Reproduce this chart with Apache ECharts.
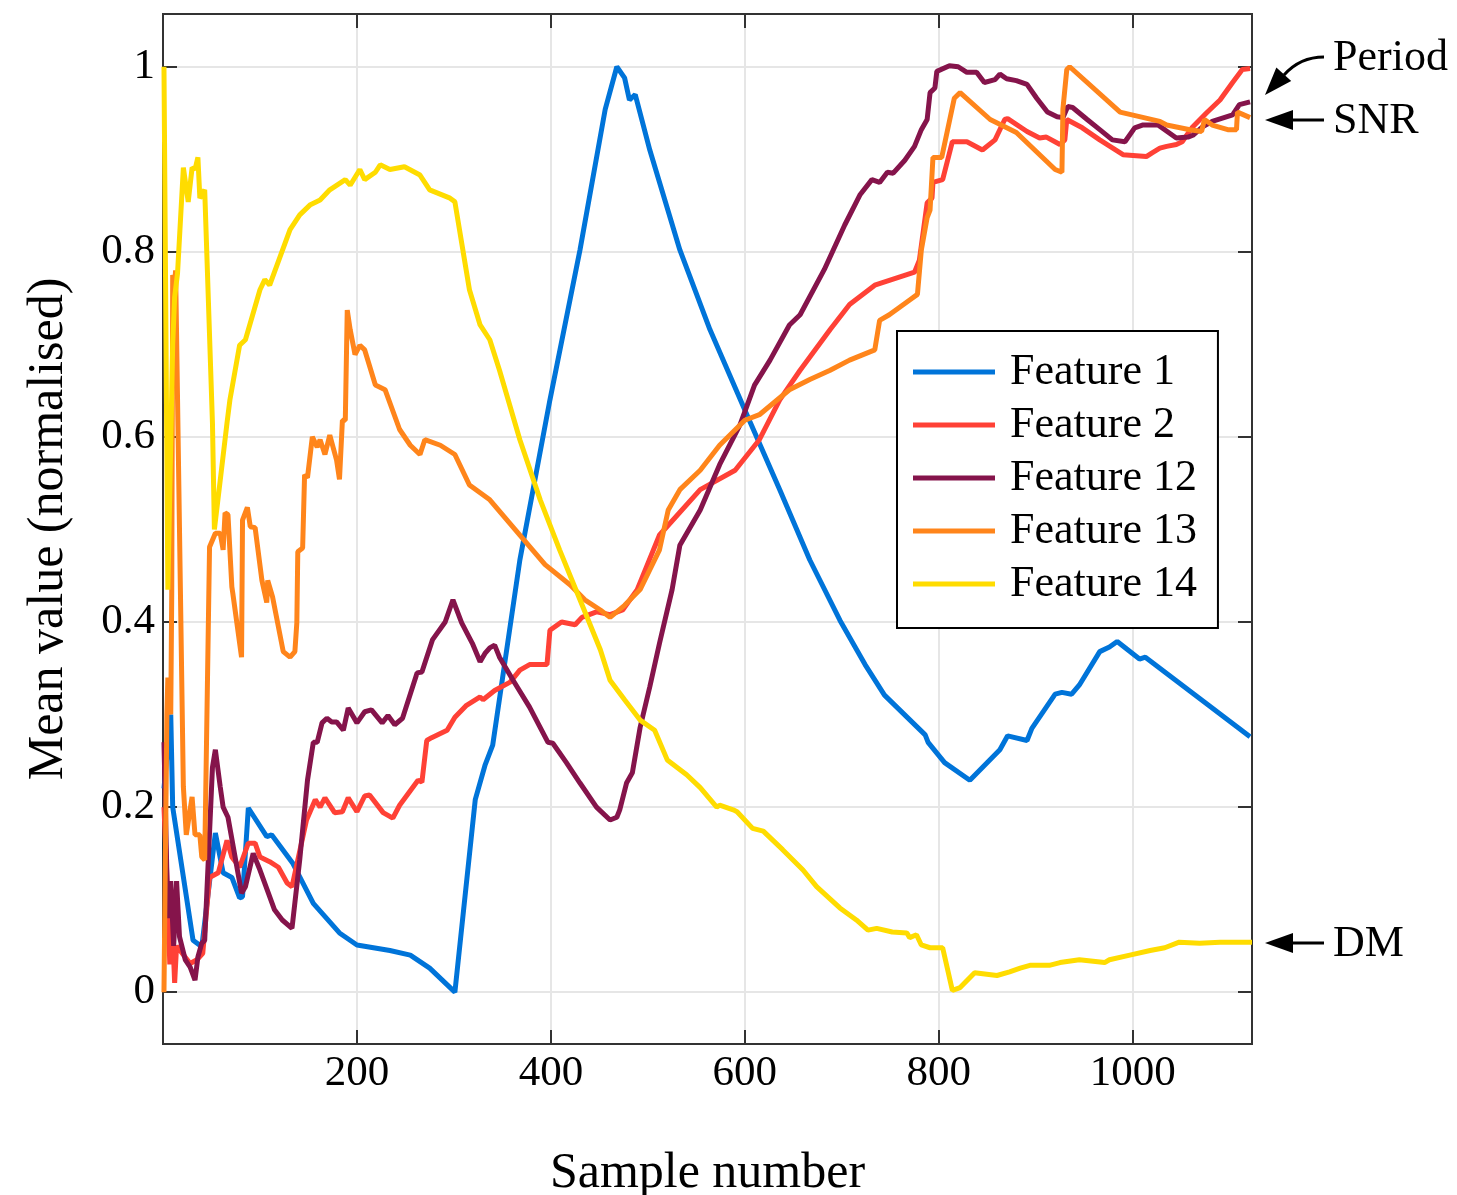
<!DOCTYPE html>
<html>
<head>
<meta charset="utf-8">
<script src="https://cdn.jsdelivr.net/npm/echarts@6/dist/echarts.min.js"></script>
<style>html,body{margin:0;padding:0;background:#fff}#c{width:1457px;height:1195px}</style>
</head>
<body>
<div id="c"></div>
<script>
// Data: [sample number, normalised mean value]
const feature1 = [[1,0.22],[8,0.30],[10,0.20],[31,0.056],[40,0.049],[54,0.172],[62,0.129],[71,0.124],[79,0.102],[82,0.103],[88,0.199],[107,0.168],[112,0.17],[134,0.139],[155,0.096],[182,0.064],[200,0.051],[234,0.045],[255,0.04],[275,0.026],[301,0.0],[322,0.208],[332,0.245],[340,0.267],[368,0.467],[399,0.64],[430,0.802],[456,0.954],[468,1.0],[476,0.988],[481,0.964],[487,0.97],[502,0.91],[533,0.802],[564,0.716],[600,0.629],[636,0.543],[667,0.467],[698,0.402],[724,0.354],[744,0.321],[786,0.278],[789,0.27],[806,0.248],[832,0.229],[847,0.245],[863,0.262],[871,0.277],[891,0.272],[896,0.285],[920,0.322],[927,0.324],[937,0.322],[945,0.332],[966,0.368],[976,0.373],[984,0.379],[1007,0.36],[1013,0.362],[1121,0.276]];
const feature2 = [[1,0.2],[5,0.10],[7,0.03],[9,0.09],[12,0.01],[14,0.05],[28,0.031],[35,0.035],[41,0.042],[48,0.124],[57,0.129],[66,0.164],[71,0.146],[79,0.135],[88,0.161],[95,0.161],[100,0.146],[110,0.141],[119,0.135],[128,0.118],[133,0.114],[148,0.186],[157,0.208],[162,0.2],[167,0.21],[177,0.194],[185,0.195],[191,0.21],[200,0.195],[208,0.212],[213,0.213],[227,0.194],[237,0.188],[244,0.202],[263,0.229],[267,0.227],[272,0.272],[277,0.275],[293,0.283],[301,0.297],[313,0.31],[327,0.319],[330,0.316],[342,0.326],[358,0.335],[368,0.348],[378,0.354],[396,0.354],[399,0.391],[411,0.4],[425,0.397],[432,0.405],[447,0.411],[461,0.408],[474,0.413],[489,0.435],[512,0.494],[554,0.543],[590,0.564],[615,0.597],[636,0.64],[657,0.672],[688,0.716],[708,0.743],[734,0.764],[775,0.778],[780,0.791],[788,0.853],[793,0.858],[794,0.875],[804,0.878],[814,0.919],[829,0.919],[845,0.91],[858,0.921],[868,0.943],[871,0.944],[891,0.93],[904,0.923],[911,0.924],[925,0.916],[930,0.921],[932,0.943],[948,0.934],[966,0.921],[990,0.905],[1014,0.903],[1020,0.907],[1028,0.912],[1035,0.914],[1045,0.916],[1051,0.919],[1061,0.934],[1076,0.95],[1090,0.964],[1103,0.983],[1113,0.997],[1121,0.998]];
const feature12 = [[1,0.27],[5,0.08],[8,0.12],[11,0.05],[14,0.12],[17,0.06],[23,0.035],[28,0.027],[33,0.013],[36,0.038],[40,0.053],[43,0.056],[51,0.243],[54,0.262],[59,0.222],[62,0.2],[67,0.189],[81,0.107],[85,0.114],[93,0.15],[100,0.132],[115,0.089],[123,0.078],[133,0.069],[134,0.078],[141,0.143],[149,0.229],[155,0.27],[159,0.27],[164,0.291],[169,0.296],[174,0.292],[179,0.292],[186,0.283],[191,0.307],[200,0.291],[208,0.303],[215,0.305],[226,0.291],[232,0.299],[239,0.289],[247,0.296],[262,0.345],[267,0.346],[278,0.381],[291,0.4],[299,0.424],[308,0.399],[319,0.377],[327,0.357],[332,0.366],[337,0.372],[342,0.375],[347,0.362],[361,0.337],[378,0.308],[397,0.27],[402,0.269],[416,0.248],[430,0.226],[447,0.2],[461,0.186],[468,0.189],[471,0.197],[478,0.226],[484,0.237],[492,0.286],[502,0.33],[512,0.377],[525,0.435],[533,0.483],[554,0.521],[574,0.57],[595,0.613],[610,0.656],[626,0.683],[646,0.721],[657,0.732],[682,0.781],[703,0.829],[719,0.862],[731,0.878],[739,0.875],[747,0.886],[753,0.885],[765,0.899],[775,0.914],[782,0.932],[788,0.943],[791,0.972],[796,0.977],[798,0.995],[811,1.001],[820,1.0],[829,0.994],[839,0.994],[847,0.983],[858,0.986],[863,0.992],[870,0.987],[880,0.985],[891,0.981],[901,0.966],[912,0.951],[922,0.946],[928,0.945],[933,0.957],[938,0.956],[953,0.943],[966,0.932],[979,0.921],[992,0.919],[1002,0.934],[1010,0.937],[1026,0.937],[1033,0.932],[1045,0.923],[1057,0.924],[1062,0.926],[1072,0.935],[1082,0.941],[1103,0.948],[1110,0.959],[1121,0.962]];
const feature13 = [[1,0.0],[4,0.30],[5,0.34],[8,0.30],[9,0.43],[10,0.775],[12,0.765],[13,0.78],[21,0.222],[24,0.17],[30,0.211],[33,0.17],[38,0.17],[40,0.146],[43,0.143],[48,0.481],[54,0.496],[59,0.496],[62,0.478],[64,0.518],[67,0.516],[71,0.438],[72,0.431],[81,0.362],[82,0.51],[87,0.524],[90,0.503],[95,0.502],[102,0.445],[107,0.421],[108,0.445],[113,0.427],[124,0.368],[131,0.362],[136,0.368],[138,0.399],[139,0.476],[144,0.48],[146,0.559],[149,0.556],[154,0.6],[159,0.589],[162,0.597],[167,0.581],[172,0.602],[179,0.575],[182,0.554],[185,0.618],[188,0.618],[190,0.737],[193,0.716],[198,0.689],[203,0.699],[208,0.694],[219,0.656],[229,0.651],[244,0.608],[255,0.591],[265,0.581],[270,0.597],[286,0.591],[301,0.581],[316,0.548],[337,0.532],[368,0.494],[394,0.462],[420,0.44],[435,0.424],[451,0.413],[461,0.405],[476,0.418],[492,0.435],[512,0.478],[521,0.521],[533,0.543],[554,0.564],[574,0.591],[600,0.618],[615,0.624],[646,0.651],[667,0.662],[688,0.672],[708,0.683],[734,0.694],[739,0.726],[749,0.732],[770,0.748],[778,0.754],[782,0.802],[788,0.837],[791,0.845],[794,0.902],[803,0.902],[816,0.966],[822,0.972],[853,0.943],[880,0.929],[907,0.902],[920,0.889],[927,0.886],[928,0.954],[932,0.997],[935,1.0],[987,0.951],[1028,0.941],[1035,0.937],[1059,0.932],[1071,0.93],[1074,0.943],[1082,0.937],[1098,0.932],[1107,0.932],[1108,0.951],[1121,0.945]];
const feature14 = [[1,1.0],[5,0.435],[10,0.70],[12,0.751],[15,0.777],[21,0.891],[26,0.854],[30,0.891],[33,0.889],[36,0.902],[38,0.858],[43,0.867],[51,0.615],[53,0.5],[66,0.615],[69,0.64],[79,0.699],[85,0.705],[100,0.759],[105,0.77],[110,0.764],[131,0.824],[141,0.84],[152,0.851],[162,0.856],[172,0.867],[188,0.878],[193,0.872],[203,0.889],[208,0.878],[219,0.886],[224,0.894],[234,0.889],[249,0.892],[265,0.883],[275,0.867],[296,0.858],[301,0.854],[316,0.759],[327,0.721],[337,0.705],[347,0.672],[368,0.597],[389,0.532],[409,0.478],[430,0.424],[451,0.37],[461,0.337],[476,0.316],[492,0.294],[507,0.283],[520,0.251],[540,0.235],[554,0.221],[571,0.2],[574,0.202],[588,0.197],[592,0.195],[608,0.177],[619,0.174],[639,0.154],[660,0.132],[674,0.114],[698,0.091],[715,0.078],[727,0.067],[736,0.069],[752,0.065],[767,0.064],[770,0.059],[777,0.062],[782,0.051],[791,0.048],[804,0.048],[814,0.002],[822,0.005],[837,0.021],[860,0.018],[873,0.022],[884,0.026],[894,0.029],[914,0.029],[925,0.032],[945,0.035],[971,0.032],[976,0.035],[997,0.04],[1018,0.045],[1033,0.048],[1048,0.054],[1069,0.053],[1090,0.054],[1123,0.054]];

const seriesNames = ['Feature 1','Feature 2','Feature 12','Feature 13','Feature 14'];
const seriesColors = ['#0074D9','#FF4136','#85144B','#FF851B','#FFDC00'];
const seriesData = [feature1, feature2, feature12, feature13, feature14];
const annotations = ['Period','SNR','DM'];

const FONT = 'Liberation Serif';
const chart = echarts.init(document.getElementById('c'), null, {renderer:'canvas'});

function tick(){ return {show:true, inside:true, length:14, lineStyle:{color:'#333', width:2}}; }
function gridLine(){ return {show:true, lineStyle:{color:'#e6e6e6', width:2}}; }
function axLine(){ return {show:true, onZero:false, lineStyle:{color:'#333', width:2}}; }
const fmt = v => String(Math.round(v*1000)/1000);

const option = {
  backgroundColor:'#fff',
  animation:false,
  grid:{left:163, right:205, top:14, bottom:151, show:true, borderColor:'#333', borderWidth:2,
        backgroundColor:'transparent', containLabel:false, outerBoundsMode:'none'},
  xAxis:[
    {type:'value', min:0, max:1123, splitNumber:5, position:'bottom',
     name:'Sample number', nameLocation:'middle', nameGap:105,
     nameTextStyle:{fontFamily:FONT, fontSize:50, color:'#000'},
     axisLine:axLine(), axisTick:tick(), splitLine:gridLine(),
     axisLabel:{fontFamily:FONT, fontSize:43, color:'#000', margin:8, showMinLabel:false, showMaxLabel:false, formatter:fmt}},
    {type:'value', min:0, max:1123, splitNumber:5, position:'top',
     axisLine:axLine(), axisTick:tick(), splitLine:{show:false}, axisLabel:{show:false}}
  ],
  yAxis:[
    {type:'value', min:-0.056, max:1.057, splitNumber:5, minInterval:0.2, maxInterval:0.2, position:'left',
     name:'Mean value (normalised)', nameLocation:'middle', nameGap:89, nameRotate:90,
     nameTextStyle:{fontFamily:FONT, fontSize:50, color:'#000'},
     axisLine:axLine(), axisTick:tick(), splitLine:gridLine(),
     axisLabel:{fontFamily:FONT, fontSize:43, color:'#000', margin:8, showMinLabel:false, showMaxLabel:false, formatter:fmt}},
    {type:'value', min:-0.056, max:1.057, splitNumber:5, minInterval:0.2, maxInterval:0.2, position:'right',
     axisLine:axLine(), axisTick:tick(), splitLine:{show:false}, axisLabel:{show:false}}
  ],
  legend:{
    orient:'vertical', left:897, top:331,
    backgroundColor:'#fff', borderColor:'#000', borderWidth:2, borderRadius:0,
    padding:[19,21,22,16], itemGap:9, itemWidth:82, itemHeight:5, icon:'rect',
    textStyle:{fontFamily:FONT, fontSize:44, color:'#000', lineHeight:44, padding:[0,0,0,10]},
    data:seriesNames
  },
  series: seriesNames.map((n,i)=>({
    name:n, type:'line', data:seriesData[i], showSymbol:false, symbol:'none',
    xAxisIndex:0, yAxisIndex:0, clip:true,
    lineStyle:{color:seriesColors[i], width:5}, itemStyle:{color:seriesColors[i]},
    z: 2+i
  }))
};
chart.setOption(option);

// annotations on the right side
function arrowHead(tx, ty, angle, len, half){
  const bx = tx + Math.cos(angle)*len, by = ty + Math.sin(angle)*len;
  const px = -Math.sin(angle)*half, py = Math.cos(angle)*half;
  return [[tx,ty],[bx+px,by+py],[bx-px,by-py]];
}
const textX = 1333;
const tipX = 1265;
const g = [];
g.push({type:'bezierCurve', shape:{x1:1324,y1:57,x2:1284,y2:75,cpx1:1300,cpy1:57}, style:{stroke:'#000', lineWidth:3, fill:null}});
g.push({type:'polygon', shape:{points:arrowHead(1265,95,-Math.PI/4-0.05,28,10)}, style:{fill:'#000'}});
g.push({type:'text', x:textX, y:58, style:{text:annotations[0], font:'44px "'+FONT+'"', fill:'#000', verticalAlign:'middle', align:'left'}});
[[annotations[1],120],[annotations[2],943]].forEach(([t,y])=>{
  g.push({type:'line', shape:{x1:1290,y1:y,x2:1324,y2:y}, style:{stroke:'#000', lineWidth:3}});
  g.push({type:'polygon', shape:{points:arrowHead(tipX,y,0,28,10)}, style:{fill:'#000'}});
  g.push({type:'text', x:textX, y:y+1, style:{text:t, font:'44px "'+FONT+'"', fill:'#000', verticalAlign:'middle', align:'left'}});
});
chart.setOption({graphic:g});
</script>
</body>
</html>
